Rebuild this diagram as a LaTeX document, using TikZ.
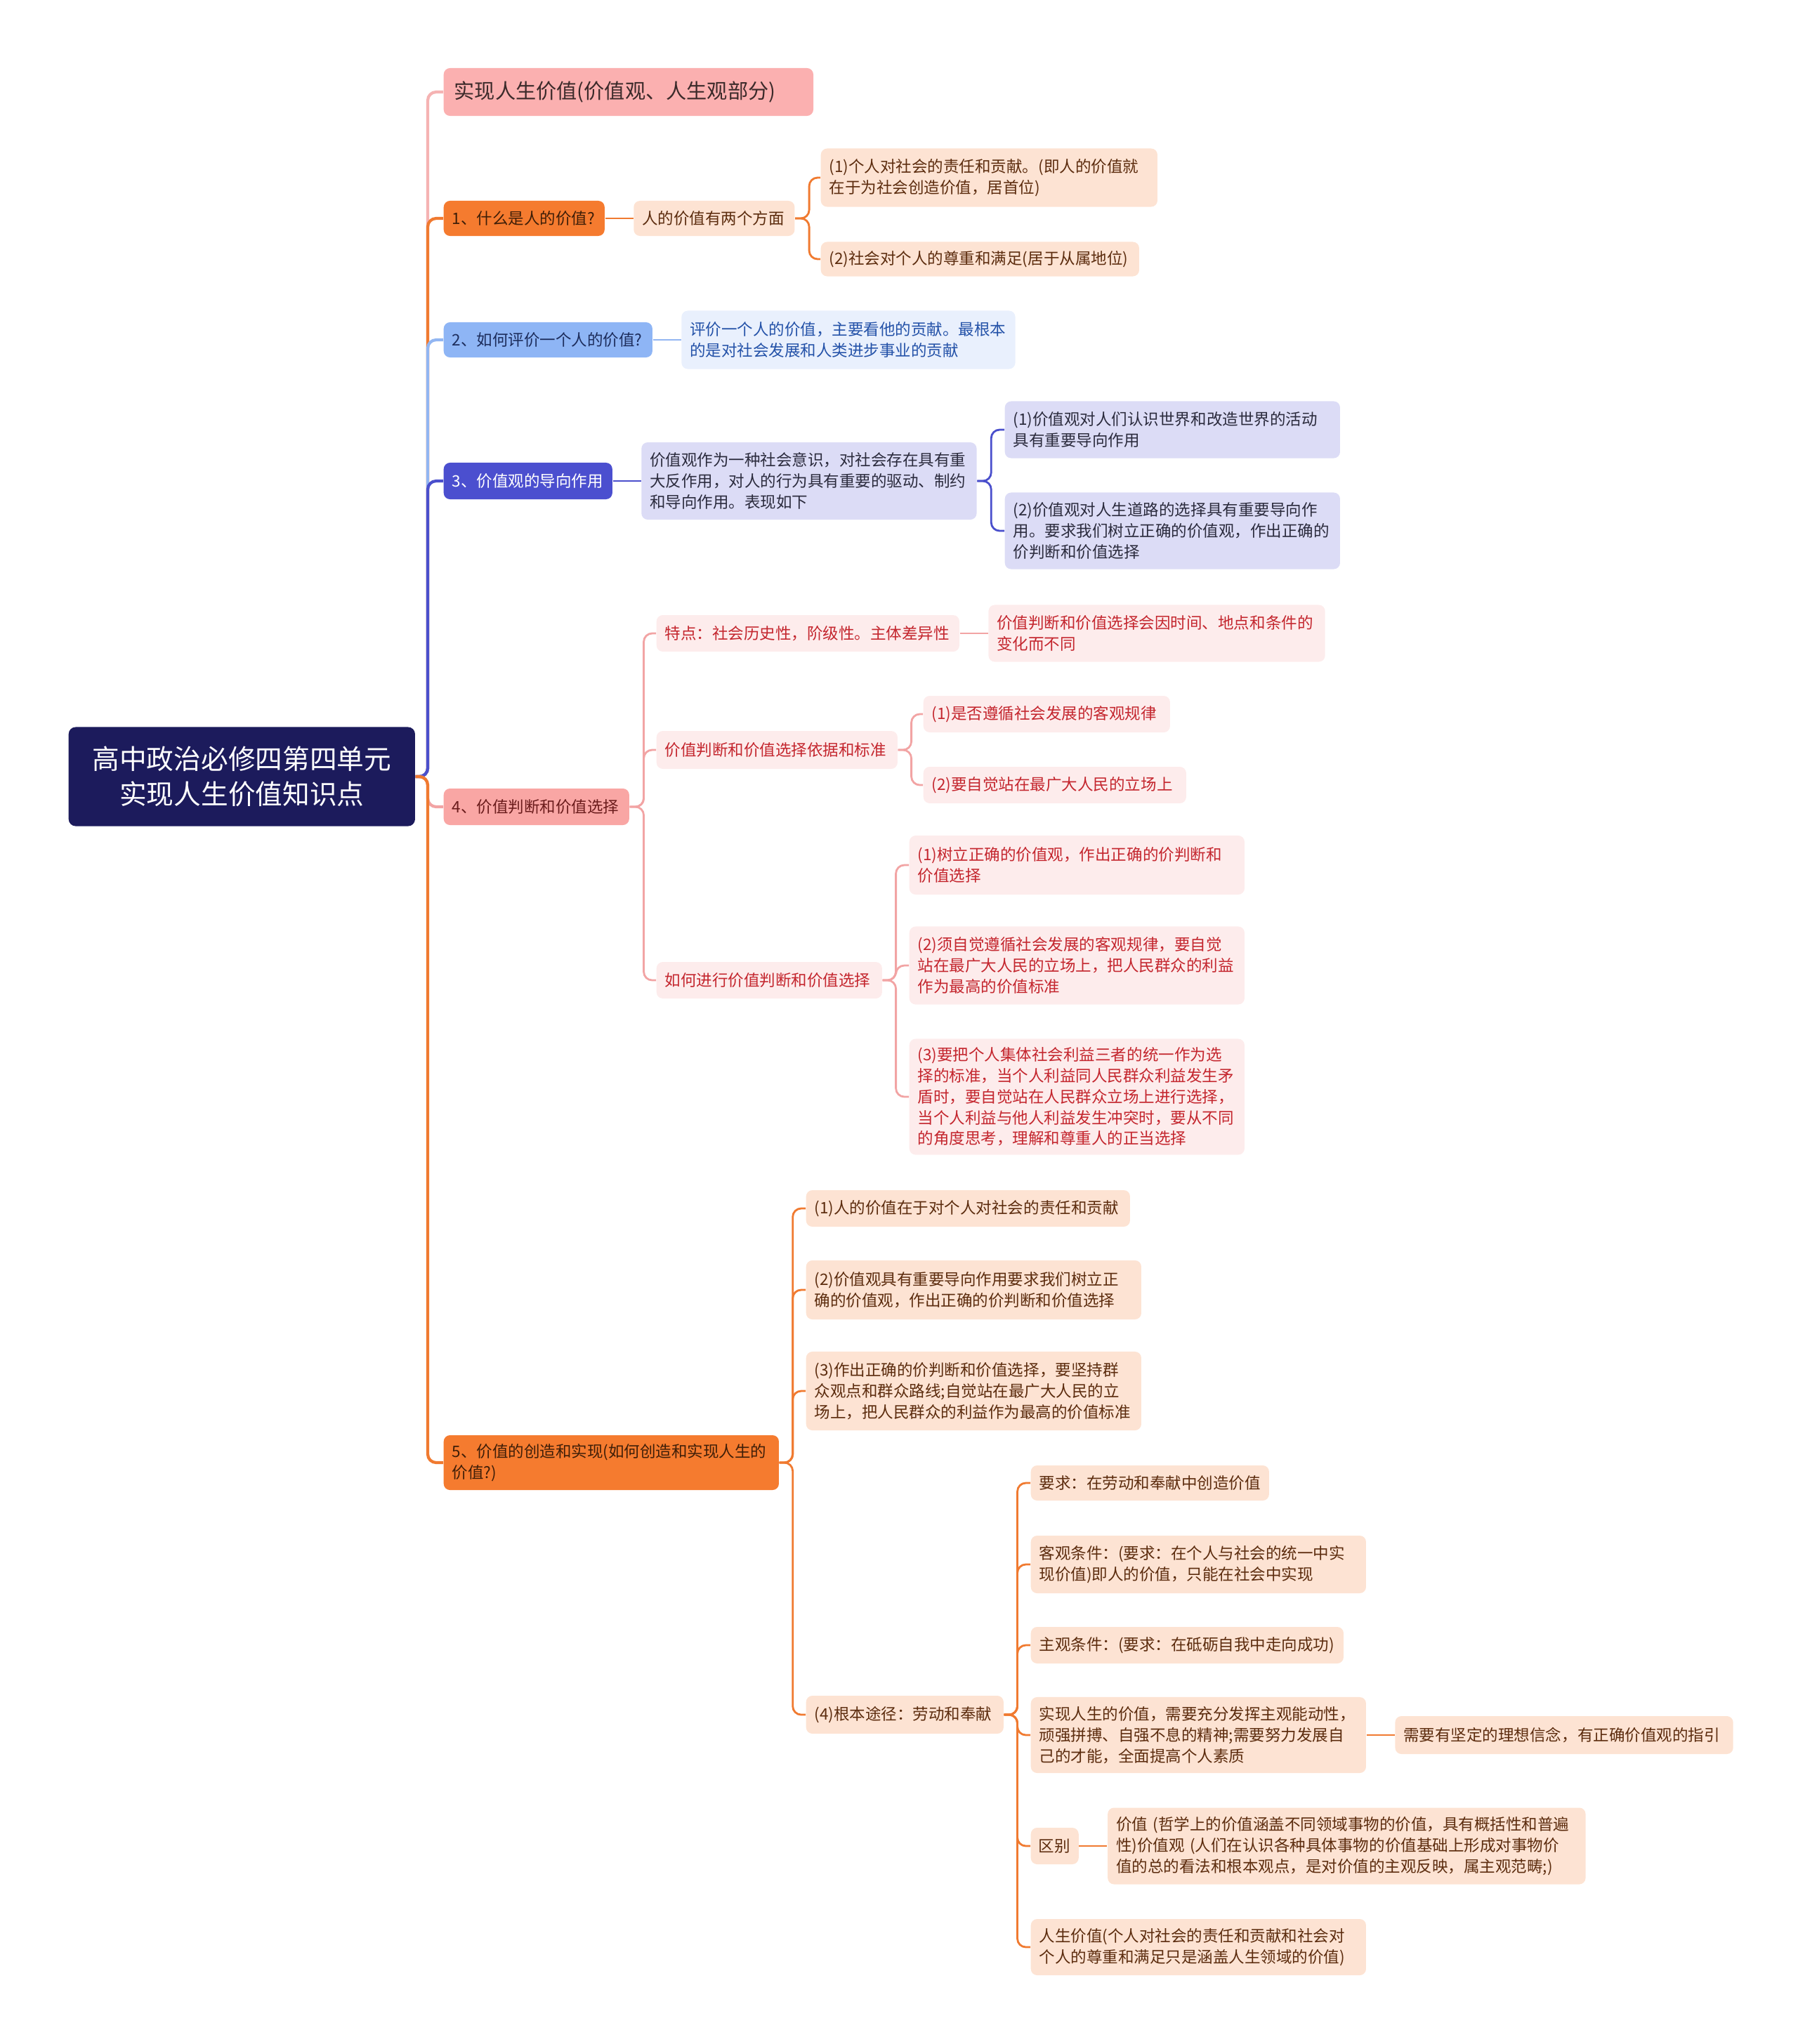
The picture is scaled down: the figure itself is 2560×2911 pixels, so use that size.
\documentclass[tikz,border=0pt]{standalone}
\usepackage{fontspec}
\setmainfont{Noto Sans CJK SC}
\usetikzlibrary{positioning}

% 颜色
\definecolor{rootbg}{HTML}{1C1B5C}
\definecolor{topline}{HTML}{F5B3B3}
\definecolor{topbg}{HTML}{FBB0B0}
\definecolor{topfg}{HTML}{3B2A2A}
\definecolor{orline}{HTML}{F07A30}
\definecolor{orbg}{HTML}{F57B2F}
\definecolor{orfg}{HTML}{3E1E08}
\definecolor{pchbg}{HTML}{FDE3D3}
\definecolor{pchfg}{HTML}{5C2C0E}
\definecolor{blline}{HTML}{92B6F2}
\definecolor{blbg}{HTML}{8EB5F5}
\definecolor{blfg}{HTML}{1D2D5C}
\definecolor{bllbg}{HTML}{E9F0FD}
\definecolor{bllfg}{HTML}{2452A8}
\definecolor{indline}{HTML}{4A4FCC}
\definecolor{indbg}{HTML}{4B4FCF}
\definecolor{lavbg}{HTML}{DCDCF6}
\definecolor{lavfg}{HTML}{2B2B3D}
\definecolor{rdline}{HTML}{F2A4A4}
\definecolor{rdbg}{HTML}{F9A6A4}
\definecolor{rdfg}{HTML}{6B1C1C}
\definecolor{rdlbg}{HTML}{FDECEC}
\definecolor{rdlfg}{HTML}{C4262E}

\newcommand{\leaffont}{\fontsize{6.4}{8.45}\selectfont}
\newcommand{\topfont}{\fontsize{8.3}{10}\selectfont}
\newcommand{\rootfont}{\fontsize{11}{14.2}\selectfont}

\begin{document}
\begin{tikzpicture}[
        x=0.01cm, y=-0.01cm,
        node distance=0.4cm,
        box/.style={rectangle, rounded corners=0.09cm, anchor=west,
                    inner xsep=0.12cm, inner ysep=0pt, align=left,
                    font=\leaffont, text width=4.53cm, minimum height=0.52cm},
        topbox/.style={box, fill=topbg, text=topfg, font=\topfont},
        orbox/.style={box, fill=orbg, text=orfg},
        pchbox/.style={box, fill=pchbg, text=pchfg},
        blbox/.style={box, fill=blbg, text=blfg},
        bllbox/.style={box, fill=bllbg, text=bllfg},
        indbox/.style={box, fill=indbg, text=white},
        lavbox/.style={box, fill=lavbg, text=lavfg},
        rdbox/.style={box, fill=rdbg, text=rdfg},
        rdlbox/.style={box, fill=rdlbg, text=rdlfg},
        trunk/.style={line width=1.2pt, rounded corners=0.12cm},
        link/.style={line width=0.8pt, rounded corners=0.12cm},
    ]
    \useasboundingbox (0,0) rectangle (2560,2911);

    % 中心主题
    \node[rectangle, rounded corners=0.1cm, fill=rootbg, text=white, anchor=west,
          minimum width=4.93cm, minimum height=1.41cm, align=center,
          font=\rootfont] (root) at (97,1106)
          {高中政治必修四第四单元\\实现人生价值知识点};

    % 标题
    \node[topbox, text width=4.96cm, inner xsep=0.15cm, minimum height=0.68cm]
        (t0) at (631,131) {实现人生价值(价值观、人生观部分)};

    % 1、什么是人的价值
    \node[orbox, text width=2.05cm, minimum height=0.50cm] (n1) at (631,311)
        {1、什么是人的价值?};
    \node[pchbox, text width=2.05cm, minimum height=0.50cm, right=of n1] (n1a)
        {人的价值有两个方面};
    \node[pchbox, text width=4.55cm, minimum height=0.83cm] (n1a1) at (1168,253)
        {(1)个人对社会的责任和贡献。(即人的价值就\\在于为社会创造价值，居首位)};
    \node[pchbox, text width=4.29cm, minimum height=0.49cm] (n1a2) at (1168,369)
        {(2)社会对个人的尊重和满足(居于从属地位)};

    % 2、如何评价
    \node[blbox, text width=2.73cm, minimum height=0.50cm] (n2) at (631,484)
        {2、如何评价一个人的价值?};
    \node[bllbox, text width=4.51cm, minimum height=0.83cm, right=of n2] (n2a)
        {评价一个人的价值，主要看他的贡献。最根本\\的是对社会发展和人类进步事业的贡献};

    % 3、导向作用
    \node[indbox, text width=2.16cm] (n3) at (631,685) {3、价值观的导向作用};
    \node[lavbox, minimum height=1.10cm, right=of n3] (n3a)
        {价值观作为一种社会意识，对社会存在具有重\\大反作用，对人的行为具有重要的驱动、制约\\和导向作用。表现如下};
    \node[lavbox, minimum height=0.81cm] (n3a1) at (1430,612)
        {(1)价值观对人们认识世界和改造世界的活动\\具有重要导向作用};
    \node[lavbox, minimum height=1.09cm] (n3a2) at (1430,756)
        {(2)价值观对人生道路的选择具有重要导向作\\用。要求我们树立正确的价值观，作出正确的\\价判断和价值选择};

    % 4、价值判断和价值选择
    \node[rdbox, text width=2.40cm] (n4) at (631,1149) {4、价值判断和价值选择};
    \node[rdlbox, text width=4.07cm] (n4a) at (934,902)
        {特点：社会历史性，阶级性。主体差异性};
    \node[rdlbox, text width=4.55cm, minimum height=0.81cm, right=of n4a] (n4a1)
        {价值判断和价值选择会因时间、地点和条件的\\变化而不同};
    \node[rdlbox, text width=3.19cm, minimum height=0.54cm] (n4b) at (934,1068)
        {价值判断和价值选择依据和标准};
    \node[rdlbox, text width=3.27cm] (n4b1) at (1314,1017)
        {(1)是否遵循社会发展的客观规律};
    \node[rdlbox, text width=3.50cm] (n4b2) at (1314,1118)
        {(2)要自觉站在最广大人民的立场上};
    \node[rdlbox, text width=2.97cm] (n4c) at (934,1396)
        {如何进行价值判断和价值选择};
    \node[rdlbox, minimum height=0.84cm] (n4c1) at (1294,1232)
        {(1)树立正确的价值观，作出正确的价判断和\\价值选择};
    \node[rdlbox, minimum height=1.11cm] (n4c2) at (1294,1375)
        {(2)须自觉遵循社会发展的客观规律，要自觉\\站在最广大人民的立场上，把人民群众的利益\\作为最高的价值标准};
    \node[rdlbox, minimum height=1.65cm] (n4c3) at (1294,1562)
        {(3)要把个人集体社会利益三者的统一作为选\\择的标准，当个人利益同人民群众利益发生矛\\盾时，要自觉站在人民群众立场上进行选择，\\当个人利益与他人利益发生冲突时，要从不同\\的角度思考，理解和尊重人的正当选择};

    % 5、价值的创造和实现
    \node[orbox, minimum height=0.78cm] (n5) at (631,2083)
        {5、价值的创造和实现(如何创造和实现人生的\\价值?)};
    \node[pchbox, text width=4.37cm] (n5a) at (1147,1721)
        {(1)人的价值在于对个人对社会的责任和贡献};
    \node[pchbox, minimum height=0.84cm] (n5b) at (1147,1837)
        {(2)价值观具有重要导向作用要求我们树立正\\确的价值观，作出正确的价判断和价值选择};
    \node[pchbox, minimum height=1.12cm] (n5c) at (1147,1981)
        {(3)作出正确的价判断和价值选择，要坚持群\\众观点和群众路线;自觉站在最广大人民的立\\场上，把人民群众的利益作为最高的价值标准};
    \node[pchbox, text width=2.57cm, minimum height=0.54cm] (n5d) at (1147,2442)
        {(4)根本途径：劳动和奉献};
    \node[pchbox, text width=3.15cm, minimum height=0.50cm] (n5d1) at (1467,2112)
        {要求：在劳动和奉献中创造价值};
    \node[pchbox, minimum height=0.82cm] (n5d2) at (1467,2228)
        {客观条件：(要求：在个人与社会的统一中实\\现价值)即人的价值，只能在社会中实现};
    \node[pchbox, text width=4.21cm] (n5d3) at (1467,2343)
        {主观条件：(要求：在砥砺自我中走向成功)};
    \node[pchbox, minimum height=1.08cm] (n5d4) at (1467,2471)
        {实现人生的价值，需要充分发挥主观能动性，\\顽强拼搏、自强不息的精神;需要努力发展自\\己的才能，全面提高个人素质};
    \node[pchbox, text width=4.57cm, minimum height=0.54cm, right=of n5d4] (n5d4a)
        {需要有坚定的理想信念，有正确价值观的指引};
    \node[pchbox, text width=0.46cm, inner xsep=0.11cm] (n5d5) at (1467,2629) {区别};
    \node[pchbox, text width=6.56cm, minimum height=1.09cm, right=of n5d5] (n5d5a)
        {价值 (哲学上的价值涵盖不同领域事物的价值，具有概括性和普遍\\性)价值观 (人们在认识各种具体事物的价值基础上形成对事物价\\值的总的看法和根本观点，是对价值的主观反映，属主观范畴;)};
    \node[pchbox, minimum height=0.80cm] (n5d6) at (1467,2773)
        {人生价值(个人对社会的责任和贡献和社会对\\个人的尊重和满足只是涵盖人生领域的价值)};

    % 主干连线
    \draw[trunk, topline] (root.east) -- (609,1106) |- (t0.west);
    \draw[trunk, orline] (root.east) -- (609,1106) |- (n1.west);
    \draw[trunk, blline] (root.east) -- (609,1106) |- (n2.west);
    \draw[trunk, indline] (root.east) -- (609,1106) |- (n3.west);
    \draw[trunk, rdline] (root.east) -- (609,1106) |- (n4.west);
    \draw[trunk, orline] (root.east) -- (609,1106) |- (n5.west);

    % 分支连线
    \draw[link, orline] (n1.east) -- (n1a.west);
    \draw[link, orline] (n1a.east) -- ++(20,0) |- (n1a1.west);
    \draw[link, orline] (n1a.east) -- ++(20,0) |- (n1a2.west);

    \draw[link, blline] (n2.east) -- (n2a.west);

    \draw[link, indline] (n3.east) -- (n3a.west);
    \draw[link, indline] (n3a.east) -- ++(20,0) |- (n3a1.west);
    \draw[link, indline] (n3a.east) -- ++(20,0) |- (n3a2.west);

    \draw[link, rdline] (n4.east) -- ++(20,0) |- (n4a.west);
    \draw[link, rdline] (n4.east) -- ++(20,0) |- (n4b.west);
    \draw[link, rdline] (n4.east) -- ++(20,0) |- (n4c.west);
    \draw[link, rdline] (n4a.east) -- (n4a1.west);
    \draw[link, rdline] (n4b.east) -- ++(19,0) |- (n4b1.west);
    \draw[link, rdline] (n4b.east) -- ++(19,0) |- (n4b2.west);
    \draw[link, rdline] (n4c.east) -- ++(19,0) |- (n4c1.west);
    \draw[link, rdline] (n4c.east) -- ++(19,0) |- (n4c2.west);
    \draw[link, rdline] (n4c.east) -- ++(19,0) |- (n4c3.west);

    \draw[link, orline] (n5.east) -- ++(19,0) |- (n5a.west);
    \draw[link, orline] (n5.east) -- ++(19,0) |- (n5b.west);
    \draw[link, orline] (n5.east) -- ++(19,0) |- (n5c.west);
    \draw[link, orline] (n5.east) -- ++(19,0) |- (n5d.west);
    \draw[link, orline] (n5d.east) -- ++(19,0) |- (n5d1.west);
    \draw[link, orline] (n5d.east) -- ++(19,0) |- (n5d2.west);
    \draw[link, orline] (n5d.east) -- ++(19,0) |- (n5d3.west);
    \draw[link, orline] (n5d.east) -- ++(19,0) |- (n5d4.west);
    \draw[link, orline] (n5d.east) -- ++(19,0) |- (n5d5.west);
    \draw[link, orline] (n5d.east) -- ++(19,0) |- (n5d6.west);
    \draw[link, orline] (n5d4.east) -- (n5d4a.west);
    \draw[link, orline] (n5d5.east) -- (n5d5a.west);

\end{tikzpicture}
\end{document}
